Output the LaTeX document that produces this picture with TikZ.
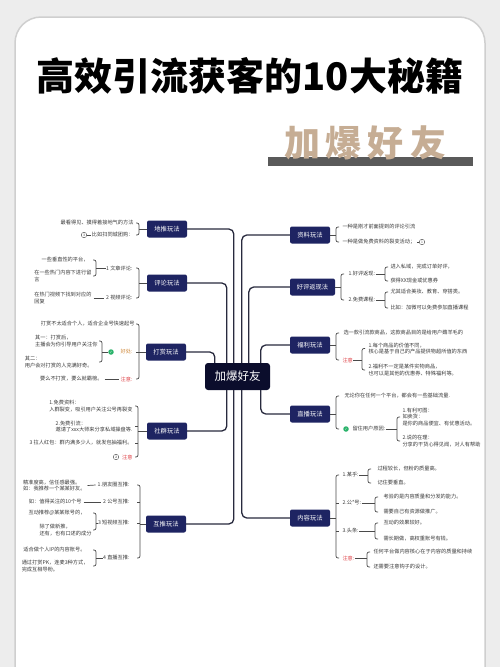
\documentclass[tikz,border=0pt]{standalone}
\usepackage{fontspec}
\newfontfamily\cjk{Noto Sans CJK SC}
\newfontfamily\dvs{DejaVu Sans}
\usetikzlibrary{calc}
\definecolor{bgc}{HTML}{EDEDED}
\definecolor{cardc}{HTML}{CFCFCF}
\definecolor{navy}{HTML}{1E2462}
\definecolor{navyd}{HTML}{0B0D2C}
\definecolor{linec}{HTML}{282A3E}
\definecolor{brkc}{HTML}{4A4A4A}
\definecolor{leafc}{HTML}{3A3A3A}
\definecolor{redc}{HTML}{E0474C}
\definecolor{orangec}{HTML}{D08A3C}
\definecolor{greenc}{HTML}{2BB36B}
\definecolor{tanc}{HTML}{C6AD94}
\definecolor{barc}{HTML}{5A5A5A}
\tikzset{
 conn/.style={draw=linec, line width=1.3pt, rounded corners=5pt},
 brk/.style={draw=brkc, line width=0.7pt, rounded corners=2pt},
 br/.style={fill=navy, text=white, font=\cjk\fontsize{6.3}{7}\selectfont, rounded corners=2pt, minimum width=40pt, minimum height=17pt, inner sep=1pt},
 lf/.style={font=\cjk\fontsize{5.2}{6.3}\selectfont, text=leafc, inner sep=0.3pt, align=left},
 L/.style={lf, anchor=east},
 R/.style={lf, anchor=west},
 ico/.style={circle, draw=brkc, line width=0.4pt, inner sep=0pt, minimum size=5.5pt, font=\fontsize{3.5}{4}\selectfont, text=brkc},
 okc/.style={circle, fill=greenc, inner sep=0pt, minimum size=5.5pt, text=white, font=\dvs\fontsize{3.5}{4}\selectfont},
}
% left-opening bracket: x, top node, bottom node, parent node
\newcommand\LBr[4]{%
 \draw[brk] ($(#2.east -| #1,0)+(-3,0)$) -- (#2.east -| #1,0) -- (#3.east -| #1,0) -- ($(#3.east -| #1,0)+(-3,0)$);
 \draw[brk] (#4.west) -- (#4.west -| #1,0);}
\newcommand\LT[2]{\draw[brk] (#2.east -| #1,0) -- ++(-3,0);}
% right-opening bracket
\newcommand\RBr[4]{%
 \draw[brk] ($(#2.west -| #1,0)+(3,0)$) -- (#2.west -| #1,0) -- (#3.west -| #1,0) -- ($(#3.west -| #1,0)+(3,0)$);
 \draw[brk] (#4.east) -- (#4.east -| #1,0);}
\newcommand\RT[2]{\draw[brk] (#2.west -| #1,0) -- ++(3,0);}
\begin{document}
\begin{tikzpicture}[x=1pt,y=-1pt]
\useasboundingbox (0,0) rectangle (500,667);
\fill[bgc] (0,0) rectangle (500,667);
\draw[cardc, line width=1.5pt, fill=white, rounded corners=26pt] (15,720) -- (15,17) -- (485,17) -- (485,720);

% title
\node[font=\cjk\bfseries\fontsize{38}{40}\selectfont, text=black] (T) at (250,76) {高效引流获客的10大秘籍};
\fill[barc] (268,157) rectangle (473,166);
\node[font=\cjk\bfseries\fontsize{36}{38}\selectfont, text=tanc] (S) at (365,143) {加\hspace{6pt}爆\hspace{6pt}好\hspace{6pt}友};

% center
\node[fill=navyd, text=white, rounded corners=3pt, minimum width=65pt, minimum height=27pt, inner sep=0pt, font=\cjk\fontsize{11.5}{12}\selectfont] (C) at (237.5,376.5) {加爆好友};

% branches
\node[br] (D1) at (167,229) {地推玩法};
\node[br] (D2) at (167,283) {评论玩法};
\node[br] (D3) at (166,352) {打赏玩法};
\node[br] (D4) at (167,431) {社群玩法};
\node[br] (D5) at (166,524) {互推玩法};
\node[br] (R1) at (310,235) {资料玩法};
\node[br, minimum width=45pt] (R2) at (312.5,287) {好评返现法};
\node[br] (R3) at (310,345) {福利玩法};
\node[br] (R4) at (310,414) {直播玩法};
\node[br] (R5) at (310,518) {内容玩法};

\draw[conn] (D1.east) -| ($(C.north west)+(29,0)$);
\draw[conn] (D2.east) -| ($(C.north west)+(22,0)$);
\draw[conn] (D3.east) -| ($(C.north west)+(10,0)$);
\draw[conn] (R1.west) -| ($(C.north west)+(37,0)$);
\draw[conn] (R2.west) -| ($(C.north west)+(44,0)$);
\draw[conn] (R3.west) -| ($(C.north west)+(56,0)$);
\draw[conn] (D4.east) -| ($(C.south west)+(22,0)$);
\draw[conn] (D5.east) -| ($(C.south west)+(29,0)$);
\draw[conn] (R4.west) -| ($(C.south west)+(56,0)$);
\draw[conn] (R5.west) -| ($(C.south west)+(37,0)$);

% 地推
\node[L] (a1) at (134,223) {最看得见、摸得着接地气的方法};
\node[L] (a2) at (134,235) {比如扫同城团购：};
\node[ico] (i1) at (84,235) {3};
\draw[brk] (i1.east) -- (a2.west);
\LBr{139}{a1}{a2}{D1}

% 评论
\node[L] (b1) at (133,268) {1 文章评论:};
\node[L] (b2) at (133,298) {2 视频评论:};
\LBr{139}{b1}{b2}{D2}
\node[L] (b11) at (89,260) {一些垂直性的平台，};
\node[L] (b12) at (92,276) {在一些热门内容下进行留\\言};
\LBr{96}{b11}{b12}{b1}
\node[L] (b21) at (92,298) {在热门视频下找到对应的\\回复};
\draw[brk] ([xshift=1.5pt]b21.east) -- ([xshift=-1.5pt]b2.west);

% 打赏
\node[L] (c1) at (135,324) {打赏不太适合个人，适合企业号快速起号};
\node[L, text=orangec] (c2) at (133,352) {好处:};
\node[okc] (g1) at (111,352) {✓};
\node[L, text=redc] (c3) at (133,379) {注意:};
\LBr{139}{c1}{c3}{D3}
\LT{139}{c2}
\node[L] (c21) at (98,341) {其一：打赏后，\\主播会为你引导用户关注你};
\node[L] (c22) at (93,362) {其二：\\用户会对打赏的人充满好奇。};
\LBr{102}{c21}{c22}{g1}
\node[L] (c31) at (103,379) {要么不打赏，要么就霸榜。};
\draw[brk] ([xshift=1.5pt]c31.east) -- ([xshift=-1.5pt]c3.west);

% 社群
\node[L] (d1) at (133,406) {1.免费资料：\\入群裂变，吸引用户关注公号再裂变};
\node[L] (d2) at (133,426.5) {2.免费引流：\\邀请了xxx大师来分享私域操盘等.};
\node[L] (d3) at (133,443) {3 拉人红包：群内满多少人，就发包抽福利。};
\node[L, text=redc] (d4) at (133,457) {注意};
\node[ico] (i3) at (116,457) {2};
\LBr{138}{d1}{d4}{D4}
\LT{138}{d2}
\LT{138}{d3}

% 互推
\node[L] (e1) at (130,485) {1.朋友圈互推:};
\node[L] (e2) at (130,502) {2 公号互推:};
\node[L] (e3) at (130,523) {3 短视频互推:};
\node[L] (e4) at (130,558) {4 直播互推:};
\LBr{140}{e1}{e4}{D5}
\LT{140}{e2}
\LT{140}{e3}
\node[L] (e11) at (86,485.5) {精准度高，信任感最强。\\如：我推荐一个某某好友。};
\draw[brk] ([xshift=1.5pt]e11.east) -- ([xshift=-1.5pt]e1.west);
\node[L] (e21) at (82,502) {如：值得关注的10个号};
\draw[brk] ([xshift=1.5pt]e21.east) -- ([xshift=-1.5pt]e2.west);
\node[L] (e31) at (86,513) {互动推荐@某某账号的，};
\node[L] (e32) at (92,530) {除了做新推，\\还有，也有口述的成分};
\LBr{96}{e31}{e32}{e3}
\node[L] (e41) at (86,550) {适合做个人IP的内容账号。};
\node[L] (e42) at (89,566) {通过打赏PK，连麦3种方式，\\完成互相导粉。};
\LBr{96}{e41}{e42}{e4}

% 资料
\node[R] (f1) at (342,227) {一种是刚才前面提到的评论引流};
\node[R] (f2) at (342,242) {一种是做免费资料的裂变活动；};
\node[ico] (i4) at (422,242) {1};
\draw[brk] ([xshift=1.5pt]f2.east) -- (i4.west);
\RBr{336}{f1}{f2}{R1}

% 好评返现
\node[R] (gA) at (348,274) {1.好评返现:};
\node[R] (gB) at (348,300) {2.免费课程:};
\RBr{341}{gA}{gB}{R2}
\node[R] (gA1) at (390,267) {进入私域，完成订单好评，};
\node[R] (gA2) at (390,281) {获得XX现金或优惠券};
\RBr{385}{gA1}{gA2}{gA}
\node[R] (gB1) at (390,292) {尤其适合美妆、教育、穿搭类。};
\node[R] (gB2) at (390,308) {比如：加微可以免费参加直播课程};
\RBr{385}{gB1}{gB2}{gB}

% 福利
\node[R] (h1) at (343,333) {选一款引流款商品，这款商品目的是给用户薅羊毛的};
\node[R, text=redc] (h2) at (342,360) {注意};
\RBr{336}{h1}{h2}{R3}
\node[R] (h21) at (368,348.5) {1.每个商品的价值不同，\\核心是基于自己的产品提供物超所值的东西};
\node[R] (h22) at (368,370) {2.福利不一定是某件实物商品，\\也可以是其他的优惠券、特殊福利等。};
\RBr{362}{h21}{h22}{h2}

% 直播
\node[R] (k1) at (344,396) {无论你在任何一个平台，都会有一些基础流量.};
\node[okc] (g2) at (346,429) {✓};
\node[R] (k2) at (352,429) {留住用户原因:};
\RBr{336}{k1}{g2}{R4}
\node[R] (k21) at (402,417) {1.有利可图：\\如卖货：\\是你的商品便宜、有优惠活动。};
\node[R] (k22) at (402,441) {2.说的在理：\\分享的干货心得见闻，对人有帮助};
\RBr{397}{k21}{k22}{k2}

% 内容
\node[R] (m1) at (342,475) {1.某乎:};
\node[R] (m2) at (342,503) {2.公*号:};
\node[R] (m3) at (342,531) {3.头条:};
\node[R, text=redc] (m4) at (342,558) {注意:};
\RBr{336}{m1}{m4}{R5}
\RT{336}{m2}
\RT{336}{m3}
\node[R] (m11) at (377,469) {过程较长，但粉的质量高。};
\node[R] (m12) at (377,483) {记住要垂直。};
\RBr{368}{m11}{m12}{m1}
\node[R] (m21) at (383,497) {考验的是内容质量和分发的能力。};
\node[R] (m22) at (383,512) {需要自己有资源做推广。};
\RBr{375}{m21}{m22}{m2}
\node[R] (m31) at (383,523) {互动的效果较好。};
\node[R] (m32) at (383,539) {需长期做，高权重账号有钱。};
\RBr{375}{m31}{m32}{m3}
\node[R] (m41) at (373,552) {任何平台做内容核心在于内容的质量和持续};
\node[R] (m42) at (373,567) {还需要注意钩子的设计。};
\RBr{367}{m41}{m42}{m4}
\end{tikzpicture}
\end{document}
